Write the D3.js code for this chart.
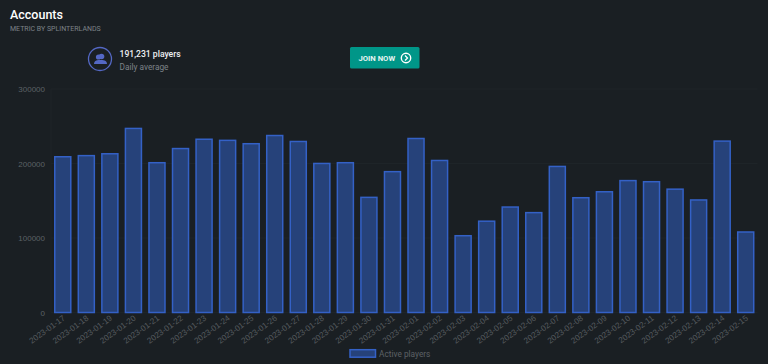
<!DOCTYPE html>
<html lang="en">
<head>
<meta charset="UTF-8"/>
<title>Accounts</title>
<script src="https://d3js.org/d3.v7.min.js"></script>
<style>
	html, body { margin: 0; padding: 0; background: #1a1f23; overflow: hidden; }
	text { font-family: Roboto, sans-serif; }
</style>
</head>
<body>
<script>
var dates = ["2023-01-17","2023-01-18","2023-01-19","2023-01-20","2023-01-21","2023-01-22","2023-01-23","2023-01-24","2023-01-25","2023-01-26",
	"2023-01-27","2023-01-28","2023-01-29","2023-01-30","2023-01-31","2023-02-01","2023-02-02","2023-02-03","2023-02-04","2023-02-05",
	"2023-02-06","2023-02-07","2023-02-08","2023-02-09","2023-02-10","2023-02-11","2023-02-12","2023-02-13","2023-02-14","2023-02-15"];
var players = [210000,211500,214000,248000,202000,221000,233500,232000,227500,238500,
	230500,201000,202000,155500,190000,234500,205000,104000,123500,142500,
	135000,197000,155000,163000,178000,176500,166500,152000,231000,109000];
var yTicks = [0,100000,200000,300000];

var w = 768, h = 364;
var svg = d3.select("body").append("svg").attr("width", w).attr("height", h).style("display", "block");

// header
svg.append("text").attr("x", 10).attr("y", 19).attr("fill", "#fff")
	.style("font-size", "12.5px").style("font-weight", 500).text("Accounts");
svg.append("text").attr("x", 10).attr("y", 30.5).attr("fill", "#7d8388")
	.style("font-size", "7px").text("METRIC BY SPLINTERLANDS");

// players badge
var badge = svg.append("g").attr("transform", "translate(100,59)");
badge.append("circle").attr("r", 11.5).attr("fill", "none").attr("stroke", "#5468c4").attr("stroke-width", 1.3);
badge.append("circle").attr("cx", 1.5).attr("cy", -2.5).attr("r", 2.8).attr("fill", "#5468c4");
badge.append("circle").attr("cx", -1.5).attr("cy", -2).attr("r", 2.6).attr("fill", "#5468c4");
badge.append("path").attr("d", "M-6 5 C-6 1,-2 1,0 1 C3 1,7 1,7 5 Z").attr("fill", "#5468c4");

svg.append("text").attr("x", 119.5).attr("y", 57).attr("fill", "#eef0f2")
	.style("font-size", "8.6px").style("font-weight", 500).text("191,231 players");
svg.append("text").attr("x", 119.5).attr("y", 69.5).attr("fill", "#7d8388")
	.style("font-size", "8.3px").text("Daily average");

// join button
var btn = svg.append("g").attr("transform", "translate(350,47)");
btn.append("rect").attr("width", 69.5).attr("height", 21.5).attr("rx", 1.5).attr("fill", "#009688");
btn.append("text").attr("x", 8.5).attr("y", 13.5).attr("fill", "#e6f4f2")
	.style("font-size", "7.7px").style("font-weight", 700).text("JOIN NOW");
btn.append("circle").attr("cx", 56).attr("cy", 11).attr("r", 4.7).attr("fill", "none").attr("stroke", "#fff").attr("stroke-width", 1.4);
btn.append("path").attr("d", "M55 8.5 L57.5 11 L55 13.5").attr("fill", "none").attr("stroke", "#fff").attr("stroke-width", 1.3);

// scales
var x = d3.scaleBand().domain(dates).range([51, 757.5]).paddingInner(0.26).paddingOuter(0.13);
var y = d3.scaleLinear().domain([0, 300000]).range([312.5, 89]);

// grid
svg.append("g").selectAll("line").data(yTicks).enter().append("line")
	.attr("x1", 51).attr("x2", 757.5)
	.attr("y1", function(d){ return y(d); })
	.attr("y2", function(d){ return y(d); })
	.attr("stroke", "#1e2428");
svg.append("line").attr("x1", 51).attr("x2", 51).attr("y1", 89).attr("y2", 312.5).attr("stroke", "#1e2428");

// bars
svg.append("g").selectAll("rect").data(players).enter().append("rect")
	.attr("x", function(d, i){ return x(dates[i]) + 0.7; })
	.attr("y", function(d){ return y(d) + 0.7; })
	.attr("width", x.bandwidth() - 1.4)
	.attr("height", function(d){ return y(0) - y(d) - 0.7; })
	.attr("fill", "#26427a")
	.attr("stroke", "#3461c6")
	.attr("stroke-width", 1.5);

// y axis labels
svg.append("g").selectAll("text").data(yTicks).enter().append("text")
	.attr("x", 45).attr("y", function(d){ return y(d) + 3; })
	.attr("text-anchor", "end").attr("fill", "#5c6266")
	.style("font-family", "Liberation Sans, sans-serif").style("font-size", "8px")
	.text(function(d){ return d; });

// x axis labels
svg.append("g").selectAll("text").data(dates).enter().append("text")
	.attr("text-anchor", "end").attr("fill", "#565b5f")
	.attr("transform", function(d){
		return "translate(" + (x(d) + x.bandwidth() / 2 + 0.5) + ",316) rotate(-36)";
	})
	.attr("dy", "0.5em")
	.style("font-family", "Liberation Sans, sans-serif").style("font-size", "8.2px")
	.text(function(d){ return d; });

// legend
svg.append("rect").attr("x", 350).attr("y", 349.7).attr("width", 25.5).attr("height", 7.5)
	.attr("fill", "#26427a").attr("stroke", "#3461c6").attr("stroke-width", 1.5);
svg.append("text").attr("x", 379).attr("y", 356.5).attr("fill", "#5c6165")
	.style("font-size", "8.3px").text("Active players");
</script>
</body>
</html>
